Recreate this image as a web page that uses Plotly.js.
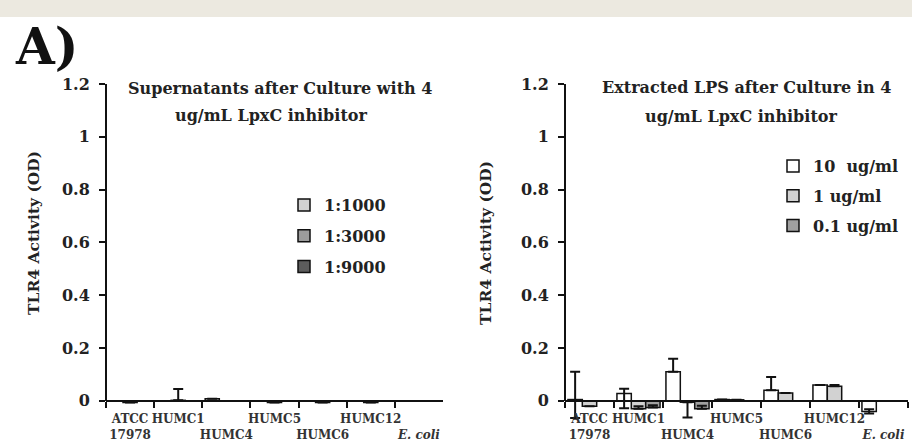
<!DOCTYPE html>
<html><head><meta charset="utf-8">
<script src="https://cdn.plot.ly/plotly-3.0.1.min.js"></script>
<style>
html,body{margin:0;padding:0;background:#fff;}
#band{position:absolute;left:0;top:0;width:912px;height:17px;background:#ECE9E0;z-index:5;}
#chart{width:912px;height:448px;}
</style>
</head><body><div id="band"></div><div id="chart"></div>
<script>
// ---- data ----
const categories = ['ATCC 17978','HUMC1','HUMC4','HUMC5','HUMC6','HUMC12','E. coli'];
const tickLabels = ['ATCC<br>17978','HUMC1','<br>HUMC4','HUMC5','<br>HUMC6','HUMC12','<br><i>E. coli</i>'];
const yTickVals = [0,0.2,0.4,0.6,0.8,1,1.2];
const yTickText = ['0','0.2','0.4','0.6','0.8','1','1.2'];

// Left panel: supernatants
const leftNames = ['1:1000','1:3000','1:9000'];
const left1000 = [0, 0, 0.008, 0, 0, 0, 0];
const left3000 = [-0.006, 0.002, 0, -0.006, -0.006, -0.006, 0];
const left9000 = [0, 0, 0, 0, 0, 0, 0];
const left1000ErrUp = [null,null,null,null,null,null,null];
const left3000ErrUp = [null,0.043,null,null,null,null,null];
const left9000ErrUp = [null,null,null,null,null,null,null];

// Right panel: extracted LPS
const rightNames = ['10\u00a0 ug/ml','1 ug/ml','0.1 ug/ml'];
const right10 = [0.005, 0.028, 0.11, 0.005, 0.04, 0.06, -0.04];
const right1 = [-0.02, -0.03, -0.005, 0.004, 0.03, 0.055, 0];
const right01 = [0, -0.025, -0.03, 0, 0, 0, 0];
const right10ErrUp = [0.105, 0.018, 0.05, null, 0.05, null, 0.008];
const right10ErrDown = [0.07, 0.056, null, null, null, null, 0.008];
const right1ErrUp = [null, 0.01, null, null, null, 0.005, null];
const right1ErrDown = [null, null, 0.058, null, null, null, null];
const right01ErrUp = [null, 0.008, 0.012, null, null, null, null];
const right01ErrDown = [null, null, null, null, null, null, null];

// ---- styling ----
const FONT = 'DejaVu Serif';
const leftColors = ['#d2d2d2','#9c9c9c','#5c5c5c'];
const rightColors = ['#ffffff','#d2d2d2','#a0a0a0'];

function barTrace(name, y, up, down, color, xa, ya, leg, grp){
  const t = {
    type:'bar', x: tickLabels, y: y, name: name, xaxis: xa, yaxis: ya,
    legend: leg, legendgroup: grp,
    marker:{color: color, line:{color:'#111', width:1.5}},
    hoverinfo:'x+y'
  };
  t.error_y = {type:'data', symmetric:false, array: up, arrayminus: down || up.map(()=>null),
               color:'#111', thickness:2, width:5, visible:true};
  return t;
}

const data = [
  barTrace(leftNames[0], left1000, left1000ErrUp, null, leftColors[0], 'x','y','legend','a'),
  barTrace(leftNames[1], left3000, left3000ErrUp, null, leftColors[1], 'x','y','legend','b'),
  barTrace(leftNames[2], left9000, left9000ErrUp, null, leftColors[2], 'x','y','legend','c'),
  barTrace(rightNames[0], right10, right10ErrUp, right10ErrDown, rightColors[0], 'x2','y2','legend2','d'),
  barTrace(rightNames[1], right1, right1ErrUp, right1ErrDown, rightColors[1], 'x2','y2','legend2','e'),
  barTrace(rightNames[2], right01, right01ErrUp, right01ErrDown, rightColors[2], 'x2','y2','legend2','f')
];

const yMin = -0.08, yMax = 1.2;
const zeroPos = (0 - yMin) / (yMax - yMin);

function yAxis(anchor){
  return {domain:[0,1], range:[yMin,yMax], anchor: anchor, tickmode:'array', tickvals: yTickVals, ticktext: yTickText,
    ticks:'outside', ticklen:6, tickwidth:2, tickcolor:'#111', showline:false, showgrid:false, zeroline:false,
    ticklabelstandoff:6,
    tickfont:{family:FONT, size:16, color:'#222', weight:'bold'}, fixedrange:true, automargin:false};
}
function xAxis(dom){
  return {domain: dom, anchor:'free', position: zeroPos, type:'category', range:[-0.5,6.5],
    tickson:'boundaries', ticks:'outside', ticklen:6, tickwidth:2, tickcolor:'#111',
    showline:true, linewidth:2, linecolor:'#111', showgrid:false, zeroline:false,
    ticklabelstandoff:7,
    tickfont:{family:FONT, size:12, color:'#333', weight:'bold'}, tickangle:0, fixedrange:true, automargin:false};
}
const PY = px => (422 - px) / 338;
const PX = px => px / 912;

const layout = {
  width:912, height:448,
  margin:{l:0, r:0, t:84, b:26},
  paper_bgcolor:'#fff', plot_bgcolor:'rgba(0,0,0,0)',
  barmode:'group', bargap:0.12, bargroupgap:0,
  font:{family:FONT, color:'#222'},
  xaxis: xAxis([PX(106), PX(443)]),
  yaxis: yAxis('x'),
  xaxis2: xAxis([PX(565), PX(908)]),
  yaxis2: yAxis('x2'),
  legend:{x:PX(284), y:PY(188), xanchor:'left', yanchor:'top', bgcolor:'rgba(0,0,0,0)', tracegroupgap:7,
          font:{family:FONT, size:16, color:'#222', weight:'bold'}},
  legend2:{x:PX(773), y:PY(149), xanchor:'left', yanchor:'top', bgcolor:'rgba(0,0,0,0)', tracegroupgap:6,
          font:{family:FONT, size:16, color:'#222', weight:'bold'}},
  shapes:[
    {type:'line', xref:'x domain', yref:'y', x0:0, x1:0, y0:0, y1:1.2, line:{color:'#111', width:2}},
    {type:'line', xref:'x2 domain', yref:'y2', x0:0, x1:0, y0:0, y1:1.2, line:{color:'#111', width:2}}
  ],
  annotations:[
    {text:'<b>A)</b>', xref:'paper', yref:'paper', x:PX(13), y:PY(46), xanchor:'left', yanchor:'middle', showarrow:false,
     font:{family:FONT, size:50, color:'#111'}},
    {text:'<b>Supernatants after Culture with 4</b>', xref:'paper', yref:'paper', x:PX(280), y:PY(89), xanchor:'center', yanchor:'middle', showarrow:false,
     font:{family:FONT, size:16, color:'#222'}},
    {text:'<b>ug/mL LpxC inhibitor</b>', xref:'paper', yref:'paper', x:PX(271), y:PY(115), xanchor:'center', yanchor:'middle', showarrow:false,
     font:{family:FONT, size:16, color:'#222'}},
    {text:'<b>Extracted LPS after Culture in 4</b>', xref:'paper', yref:'paper', x:PX(746), y:PY(88), xanchor:'center', yanchor:'middle', showarrow:false,
     font:{family:FONT, size:16, color:'#222'}},
    {text:'<b>ug/mL LpxC inhibitor</b>', xref:'paper', yref:'paper', x:PX(741), y:PY(116), xanchor:'center', yanchor:'middle', showarrow:false,
     font:{family:FONT, size:16, color:'#222'}},
    {text:'<b>TLR4 Activity (OD)</b>', xref:'paper', yref:'paper', x:PX(33), y:PY(233), xanchor:'center', yanchor:'middle', textangle:-90, showarrow:false,
     font:{family:FONT, size:15.5, color:'#222'}},
    {text:'<b>TLR4 Activity (OD)</b>', xref:'paper', yref:'paper', x:PX(485), y:PY(243), xanchor:'center', yanchor:'middle', textangle:-90, showarrow:false,
     font:{family:FONT, size:15.5, color:'#222'}}
  ],
  showlegend:true
};

Plotly.newPlot('chart', data, layout, {staticPlot:true, displayModeBar:false});
</script></body></html>
